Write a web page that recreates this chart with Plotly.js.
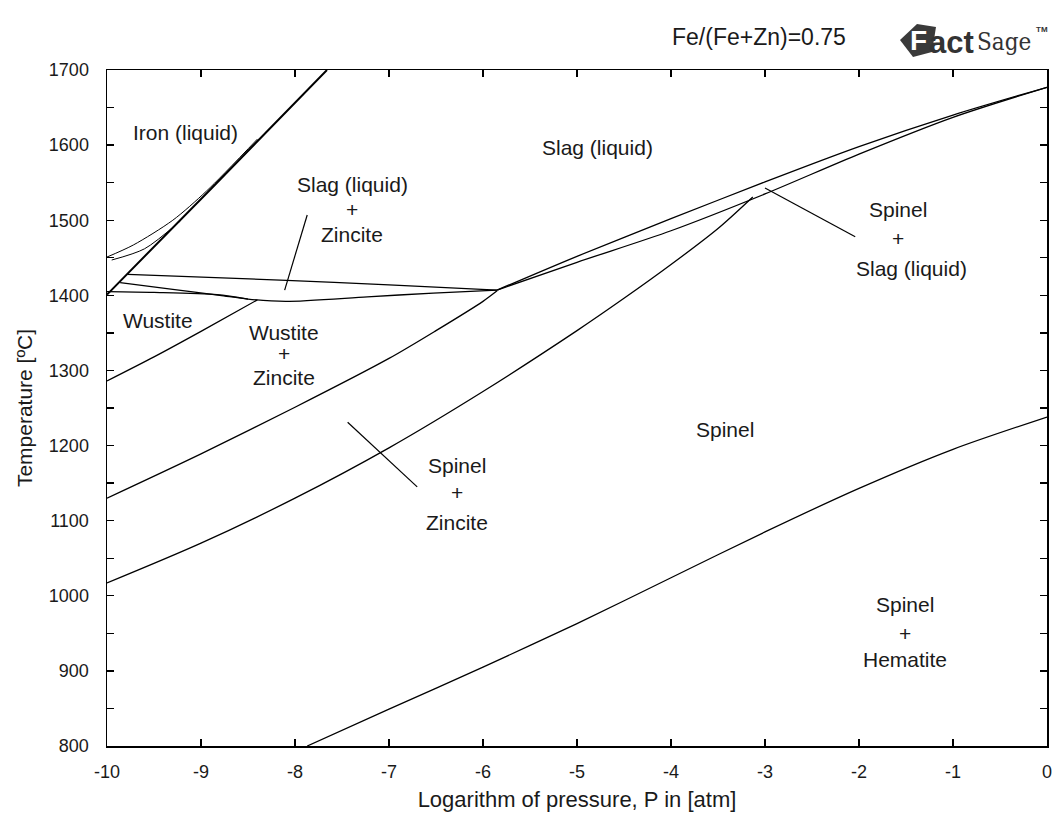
<!DOCTYPE html>
<html><head><meta charset="utf-8">
<script src="https://cdn.plot.ly/plotly-3.0.1.min.js"></script>
<style>html,body{margin:0;padding:0;background:#fff}#chart{width:1056px;height:817px}</style>
</head><body><div id="chart"></div>
<script>
// Phase boundaries: x = log10(P / atm), T in degrees C
const spinelHematiteX = [-7.87,-7,-6,-5,-4,-3,-2,-1,0];
const spinelHematiteT = [800,849,905,963,1024,1085,1143,1195,1238];

const spinelZinciteX = [-10,-9,-8,-7,-6,-5,-4.5,-4,-3.5,-3.13];
const spinelZinciteT = [1017,1070,1130,1197,1272,1353,1396,1441,1489,1531];

const wustZincX = [-10,-9,-8,-7,-6.5,-6,-5.85];
const wustZincT = [1130,1189,1251,1316,1353,1392,1406];

const wustiteX = [-10,-9.5,-9,-8.4];
const wustiteT = [1286,1318,1352,1394];

const slagTopX = [-9.78,-8.09,-7,-5.85];
const slagTopT = [1428,1420,1414,1407];

const slagLowX = [-9.86,-9.3,-8.8,-8.5,-8.1,-7.23,-6.53,-5.85];
const slagLowT = [1417,1408,1400,1395,1392,1398,1403,1407];

const wustTopX = [-10,-9.5,-8.83,-8.5];
const wustTopT = [1405,1404,1401,1395];

const ironX = [-10,-8.9,-7.66];
const ironT = [1401,1541,1700];

const ironLowX = [-10,-9.72,-9.3,-8.94,-8.4];
const ironLowT = [1451,1467,1500,1539,1608];

const ironLow2X = [-9.95,-9.6,-9.22];
const ironLow2T = [1447,1462,1499];

const liquidusX = [-5.85,-5,-4,-3,-2,-1,0];
const liquidusT = [1407,1452,1502,1551,1598,1640,1677];

const slagSpinelX = [-5.85,-5,-4,-3,-2,-1,0];
const slagSpinelT = [1407,1444,1486,1535,1588,1637,1677];

// leader lines for labels
const leadSlagZincX = [-7.87,-8.11];
const leadSlagZincT = [1507,1407];
const leadSpinZincX = [-7.44,-6.70];
const leadSpinZincT = [1231,1145];
const leadSpinSlagX = [-3.0,-2.04];
const leadSpinSlagT = [1543,1478];

// tick labels
const xTickVals = [-10,-9,-8,-7,-6,-5,-4,-3,-2,-1,0];
const xTickText = ['-10','-9','-8','-7','-6','-5','-4','-3','-2','-1','0'];
const yTickVals = [800,850,900,950,1000,1050,1100,1150,1200,1250,1300,1350,1400,1450,1500,1550,1600,1650,1700];
const yTickText = ['800','','900','','1000','','1100','','1200','','1300','','1400','','1500','','1600','','1700'];

// region labels
const labelText = ['Iron (liquid)','Slag (liquid)','Slag (liquid)','+','Zincite','Wustite','Wustite','+','Zincite',
  'Spinel','+','Zincite','Spinel','Spinel','+','Slag (liquid)','Spinel','+','Hematite'];
const labelX = [-9.17,-4.78,-7.39,-7.39,-7.39,-9.46,-8.12,-8.12,-8.12,-6.28,-6.28,-6.28,-3.43,-1.59,-1.59,-1.44,-1.51,-1.51,-1.51];
const labelT = [1617,1597,1547,1514,1481,1367,1351,1322,1291,1174,1137,1098,1221,1514,1476,1436,988,950,915];

const curves = [
  [spinelHematiteX, spinelHematiteT, 1.3, 'spline'],
  [spinelZinciteX, spinelZinciteT, 1.3, 'spline'],
  [wustZincX, wustZincT, 1.3, 'spline'],
  [wustiteX, wustiteT, 1.3, 'spline'],
  [slagTopX, slagTopT, 1.3, 'spline'],
  [slagLowX, slagLowT, 1.3, 'spline'],
  [wustTopX, wustTopT, 1.3, 'spline'],
  [ironX, ironT, 2.0, 'spline'],
  [ironLowX, ironLowT, 1.0, 'spline'],
  [ironLow2X, ironLow2T, 1.0, 'spline'],
  [liquidusX, liquidusT, 1.3, 'spline'],
  [slagSpinelX, slagSpinelT, 1.3, 'spline'],
  [leadSlagZincX, leadSlagZincT, 1.2, 'linear'],
  [leadSpinZincX, leadSpinZincT, 1.2, 'linear'],
  [leadSpinSlagX, leadSpinSlagT, 1.2, 'linear']
];

const traces = curves.map(c => ({
  x: c[0], y: c[1], type: 'scatter', mode: 'lines',
  line: {color: '#000', width: c[2], shape: c[3], smoothing: 0.8},
  hoverinfo: 'skip', showlegend: false
}));

const FONT = 'Liberation Sans, Arial, sans-serif';
const TXT = '#1a1a1a';

const annotations = labelText.map((t, i) => ({
  x: labelX[i], y: labelT[i], xref: 'x', yref: 'y', text: t, showarrow: false,
  font: {family: FONT, size: 21, color: TXT}, xanchor: 'center', yanchor: 'middle'
}));

// pixel -> paper helpers for items outside the plot area
const L = 107, R = 1047, TOP = 70, BOT = 746;
const px = v => (v - L) / (R - L);
const py = v => (BOT - v) / (BOT - TOP);

annotations.push({x: px(759), y: py(37), xref: 'paper', yref: 'paper', text: 'Fe/(Fe+Zn)=0.75',
  showarrow: false, font: {family: FONT, size: 23, color: TXT}, xanchor: 'center', yanchor: 'middle'});
annotations.push({x: px(918), y: py(40), xref: 'paper', yref: 'paper', text: '<b>F</b>',
  showarrow: false, font: {family: FONT, size: 28, color: '#fff'}, xanchor: 'center', yanchor: 'middle'});
annotations.push({x: px(927), y: py(42), xref: 'paper', yref: 'paper', text: '<b>act</b>',
  showarrow: false, font: {family: FONT, size: 31, color: '#333'}, xanchor: 'left', yanchor: 'middle'});
annotations.push({x: px(975), y: py(42), xref: 'paper', yref: 'paper', text: 'Sage',
  showarrow: false, font: {family: 'DejaVu Serif Condensed, DejaVu Serif, serif', size: 24, color: '#333'}, xanchor: 'left', yanchor: 'middle'});
annotations.push({x: px(1034), y: py(29), xref: 'paper', yref: 'paper', text: '<b>TM</b>',
  showarrow: false, font: {family: FONT, size: 8, color: '#333'}, xanchor: 'left', yanchor: 'middle'});

const logoPath = 'M ' + px(900) + ',' + py(40) + ' L ' + px(917) + ',' + py(24) +
  ' L ' + px(936) + ',' + py(27) + ' L ' + px(932) + ',' + py(52) + ' L ' + px(913) + ',' + py(57) + ' Z';

const layout = {
  width: 1056, height: 817,
  margin: {l: L, r: 1056 - R, t: TOP, b: 817 - BOT},
  paper_bgcolor: '#fff', plot_bgcolor: '#fff',
  hovermode: false, showlegend: false,
  font: {family: FONT, color: TXT},
  xaxis: {
    range: [-10, 0], tickmode: 'array', tickvals: xTickVals, ticktext: xTickText,
    ticks: 'inside', ticklen: 7, tickwidth: 1.3, tickcolor: '#000',
    showline: true, linecolor: '#000', linewidth: 1.5, mirror: 'ticks',
    showgrid: false, zeroline: false, ticklabelstandoff: 9,
    tickfont: {family: FONT, size: 18, color: TXT},
    title: {text: 'Logarithm of pressure, P in [atm]', font: {family: FONT, size: 22, color: TXT}, standoff: 10}
  },
  yaxis: {
    range: [800, 1700], tickmode: 'array', tickvals: yTickVals, ticktext: yTickText,
    ticks: 'inside', ticklen: 7, tickwidth: 1.3, tickcolor: '#000',
    showline: true, linecolor: '#000', linewidth: 1.5, mirror: 'ticks',
    showgrid: false, zeroline: false, ticklabelstandoff: 13,
    tickfont: {family: FONT, size: 18, color: TXT},
    title: {text: 'Temperature [ºC]', font: {family: FONT, size: 21, color: TXT}, standoff: 10}
  },
  shapes: [{type: 'path', xref: 'paper', yref: 'paper', path: logoPath,
    fillcolor: '#3a3a3a', line: {width: 0}, layer: 'below'}],
  annotations: annotations
};

Plotly.newPlot('chart', traces, layout, {staticPlot: true, displayModeBar: false});
</script></body></html>
